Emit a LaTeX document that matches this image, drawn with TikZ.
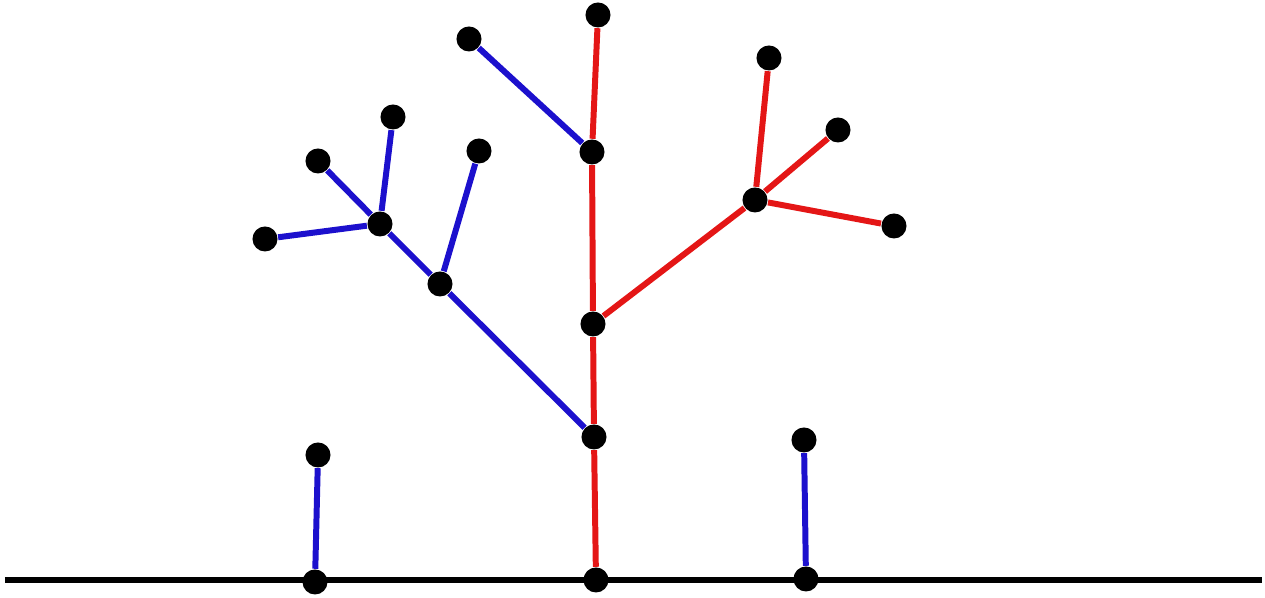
\documentclass[tikz,border=0pt]{standalone}
\definecolor{treered}{RGB}{228,22,22}
\definecolor{treeblue}{RGB}{28,16,205}
\tikzset{
    dot/.style={circle,fill=black,inner sep=0pt,minimum size=0.25cm},
    redbranch/.style={treered,line width=1.7pt},
    bluebranch/.style={treeblue,line width=1.7pt},
    ground/.style={black,line width=1.8pt}
  }

\begin{document}
\begin{tikzpicture}[x=0.01cm,y=-0.01cm]
    \useasboundingbox (0,0) rectangle (1265,598);

    % ground line
    \coordinate (gl) at (5,580);
    \coordinate (gr) at (1262,580);
    \draw[ground] (gl) -- (gr);

    \node[dot] (g1) at (315,582) {};
    \node[dot] (g2) at (596,580) {};
    \node[dot] (g3) at (806,579) {};

    % stubs
    \node[dot] (s1) at (318,455) {};
    \node[dot] (s2) at (804,440) {};
    \draw[bluebranch] (g1) -- (s1);
    \draw[bluebranch] (g3) -- (s2);

    % trunk
    \node[dot] (t1) at (594,437) {};
    \node[dot] (t2) at (593,324) {};
    \node[dot] (t3) at (592,152) {};
    \node[dot] (t4) at (598,15) {};
    \draw[redbranch] (g2) -- (t1) -- (t2) -- (t3) -- (t4);

    % left branch
    \node[dot] (l1) at (440,284) {};
    \node[dot] (l2) at (380,224) {};
    \node[dot] (l3) at (318,161) {};
    \node[dot] (l4) at (265,239) {};
    \node[dot] (l5) at (393,117) {};
    \node[dot] (l6) at (479,151) {};
    \node[dot] (l7) at (469,39) {};
    \draw[bluebranch] (t1) -- (l1);
    \draw[bluebranch] (l1) -- (l2);
    \draw[bluebranch] (l2) -- (l3);
    \draw[bluebranch] (l2) -- (l4);
    \draw[bluebranch] (l2) -- (l5);
    \draw[bluebranch] (l1) -- (l6);
    \draw[bluebranch] (t3) -- (l7);

    % right branch
    \node[dot] (r1) at (755,200) {};
    \node[dot] (r2) at (769,58) {};
    \node[dot] (r3) at (838,130) {};
    \node[dot] (r4) at (894,226) {};
    \draw[redbranch] (t2) -- (r1);
    \draw[redbranch] (r1) -- (r2);
    \draw[redbranch] (r1) -- (r3);
    \draw[redbranch] (r1) -- (r4);

  \end{tikzpicture}
\end{document}
